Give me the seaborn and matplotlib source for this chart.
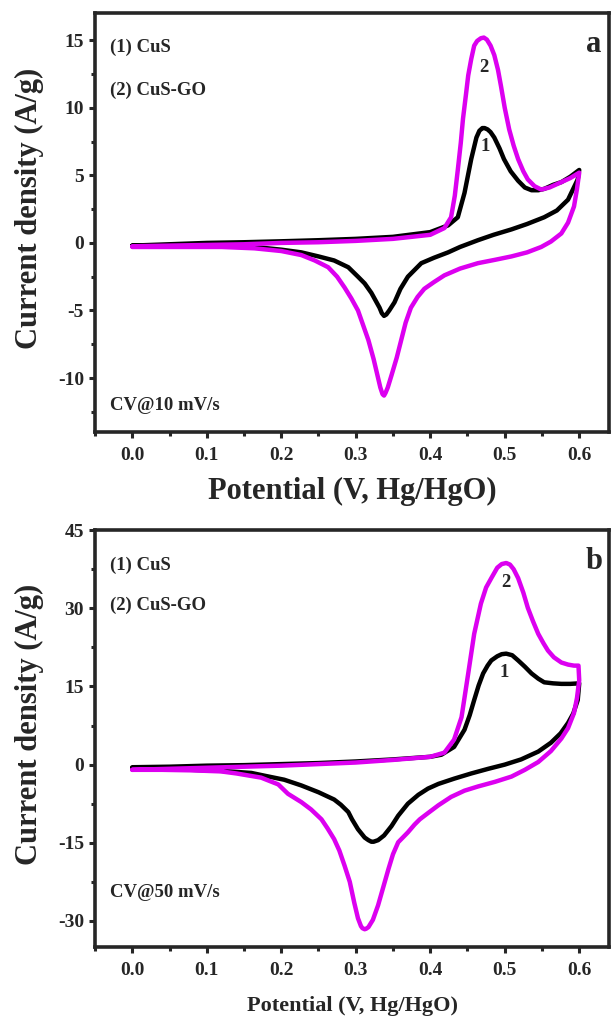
import numpy as np
import pandas as pd
import seaborn as sns
import matplotlib
matplotlib.use("Agg")
import matplotlib.pyplot as plt
from matplotlib.ticker import MultipleLocator

# ---- data (potential V vs Hg/HgO, current density A/g) ----
# panel a, 10 mV/s, CuS (1)
cus10_fwd_v = [0.0, 0.05, 0.10, 0.15, 0.20, 0.25, 0.30, 0.35, 0.40, 0.424, 0.437, 0.446,
               0.455, 0.462, 0.466, 0.470, 0.473, 0.477, 0.481, 0.486, 0.493, 0.499, 0.508,
               0.518, 0.527, 0.536, 0.545, 0.553, 0.565, 0.576, 0.588, 0.600]
cus10_fwd_i = [-0.2, -0.1, 0.0, 0.05, 0.12, 0.2, 0.3, 0.45, 0.8, 1.3, 1.9, 3.7,
               6.2, 7.8, 8.3, 8.5, 8.5, 8.4, 8.2, 7.8, 7.0, 6.2, 5.3,
               4.6, 4.1, 3.9, 3.9, 4.0, 4.3, 4.5, 4.9, 5.4]
cus10_rev_v = [0.600, 0.598, 0.585, 0.570, 0.553, 0.530, 0.509, 0.485, 0.464, 0.440, 0.424,
               0.405, 0.388, 0.370, 0.360, 0.352, 0.345, 0.341, 0.338, 0.335, 0.332, 0.326,
               0.321, 0.312, 0.303, 0.290, 0.271, 0.250, 0.227, 0.20, 0.164, 0.12, 0.08,
               0.04, 0.0]
cus10_rev_i = [5.4, 4.7, 3.2, 2.4, 1.9, 1.4, 1.0, 0.6, 0.2, -0.3, -0.7,
               -1.1, -1.5, -2.5, -3.4, -4.4, -5.0, -5.3, -5.4, -5.2, -4.8, -4.2,
               -3.7, -3.0, -2.5, -1.8, -1.3, -1.0, -0.7, -0.5, -0.3, -0.25, -0.2,
               -0.2, -0.2]

# panel a, 10 mV/s, CuS-GO (2)
go10_fwd_v = [0.0, 0.05, 0.10, 0.15, 0.20, 0.25, 0.30, 0.35, 0.40, 0.419, 0.428, 0.433,
              0.437, 0.441, 0.444, 0.448, 0.451, 0.455, 0.459, 0.463, 0.468, 0.472, 0.476,
              0.481, 0.486, 0.491, 0.495, 0.500, 0.506, 0.512, 0.518, 0.525, 0.531, 0.540,
              0.549, 0.560, 0.576, 0.588, 0.600]
go10_fwd_i = [-0.25, -0.2, -0.15, -0.1, 0.0, 0.05, 0.15, 0.3, 0.6, 1.1, 1.9, 3.5,
              5.4, 7.4, 9.2, 11.0, 12.4, 13.6, 14.6, 14.95, 15.15, 15.2, 15.05,
              14.6, 13.9, 12.8, 11.6, 10.0, 8.4, 7.2, 6.2, 5.3, 4.7, 4.2,
              3.95, 4.1, 4.5, 4.8, 5.2]
go10_rev_v = [0.600, 0.597, 0.593, 0.585, 0.576, 0.562, 0.549, 0.530, 0.509, 0.487, 0.464,
              0.440, 0.419, 0.405, 0.392, 0.383, 0.374, 0.367, 0.361, 0.355, 0.348, 0.343,
              0.340, 0.338, 0.336, 0.333, 0.330, 0.324, 0.317, 0.310, 0.303, 0.294, 0.285,
              0.275, 0.263, 0.245, 0.227, 0.20, 0.164, 0.12, 0.08, 0.04, 0.0]
go10_rev_i = [5.2, 4.0, 2.7, 1.5, 0.7, 0.1, -0.3, -0.7, -1.0, -1.25, -1.5,
              -1.9, -2.4, -2.9, -3.4, -4.0, -4.8, -5.9, -7.2, -8.5, -9.8, -10.7,
              -11.1, -11.3, -11.2, -10.7, -10.0, -8.6, -7.2, -6.1, -5.0, -4.1, -3.3,
              -2.5, -1.8, -1.3, -0.9, -0.6, -0.4, -0.3, -0.3, -0.3, -0.3]

# panel b, 50 mV/s, CuS (1)
cus50_fwd_v = [0.0, 0.05, 0.10, 0.15, 0.20, 0.25, 0.30, 0.35, 0.40, 0.415, 0.432, 0.446,
               0.453, 0.459, 0.465, 0.471, 0.477, 0.482, 0.490, 0.496, 0.502, 0.510, 0.518,
               0.527, 0.536, 0.545, 0.553, 0.565, 0.576, 0.588, 0.600]
cus50_fwd_i = [-0.5, -0.4, -0.2, -0.1, 0.1, 0.3, 0.6, 1.0, 1.5, 1.9, 3.4, 6.7,
               9.5, 12.4, 15.2, 17.5, 19.0, 20.0, 20.8, 21.2, 21.3, 21.0, 20.0,
               18.8, 17.5, 16.5, 15.8, 15.6, 15.5, 15.5, 15.6]
cus50_rev_v = [0.600, 0.598, 0.592, 0.585, 0.575, 0.562, 0.545, 0.522, 0.500, 0.478, 0.455,
               0.432, 0.411, 0.397, 0.384, 0.370, 0.357, 0.348, 0.338, 0.330, 0.324, 0.321,
               0.317, 0.312, 0.303, 0.295, 0.290, 0.280, 0.271, 0.250, 0.227, 0.204, 0.18,
               0.160, 0.12, 0.08, 0.04, 0.0]
cus50_rev_i = [15.6, 12.4, 9.8, 8.0, 6.0, 4.2, 2.5, 1.0, 0.0, -0.8, -1.7,
               -2.7, -3.7, -4.6, -5.8, -7.5, -9.8, -11.8, -13.6, -14.5, -14.8, -14.8,
               -14.5, -14.0, -12.4, -10.5, -9.1, -7.7, -6.7, -5.3, -4.0, -2.9, -2.2,
               -1.6, -1.2, -1.0, -0.8, -0.7]

# panel b, 50 mV/s, CuS-GO (2)
go50_fwd_v = [0.0, 0.05, 0.10, 0.15, 0.20, 0.25, 0.30, 0.35, 0.40, 0.419, 0.432, 0.442,
              0.451, 0.459, 0.468, 0.475, 0.482, 0.490, 0.496, 0.502, 0.507, 0.512, 0.518,
              0.525, 0.531, 0.538, 0.545, 0.552, 0.558, 0.566, 0.576, 0.585, 0.593, 0.599]
go50_fwd_i = [-1.0, -0.8, -0.6, -0.4, -0.2, 0.1, 0.4, 0.9, 1.5, 2.3, 4.8, 9.1,
              17.5, 25.1, 30.9, 34.0, 35.8, 37.8, 38.5, 38.7, 38.4, 37.5, 35.8,
              33.0, 30.1, 27.5, 25.1, 23.3, 21.9, 20.6, 19.6, 19.2, 19.0, 19.0]
go50_rev_v = [0.600, 0.597, 0.593, 0.585, 0.576, 0.562, 0.545, 0.527, 0.509, 0.487, 0.464,
              0.446, 0.428, 0.411, 0.397, 0.386, 0.379, 0.370, 0.357, 0.350, 0.344, 0.337,
              0.330, 0.323, 0.317, 0.314, 0.312, 0.309, 0.307, 0.303, 0.298, 0.292, 0.285,
              0.278, 0.271, 0.262, 0.254, 0.240, 0.227, 0.209, 0.196, 0.173, 0.14, 0.119,
              0.08, 0.04, 0.0]
go50_rev_i = [16.2, 12.8, 9.9, 7.0, 5.0, 2.6, 0.5, -1.0, -2.3, -3.3, -4.2,
              -5.0, -6.2, -7.8, -9.3, -10.5, -11.5, -13.0, -14.9, -17.2, -20.0, -23.5,
              -27.0, -29.8, -31.2, -31.5, -31.6, -31.4, -31.0, -29.5, -26.5, -22.5, -19.4,
              -16.5, -14.3, -12.2, -10.5, -8.6, -7.2, -5.6, -3.8, -2.5, -1.7, -1.3,
              -1.1, -1.0, -1.0]

samples = ["(1) CuS", "(2) CuS-GO"]
colors = {"(1) CuS": "black", "(2) CuS-GO": "#DC00F0"}


def loop_df(name, fv, fi, rv, ri):
    v = list(fv) + list(rv)
    i = list(fi) + list(ri)
    return pd.DataFrame({"V": v, "I": i, "sample": name})


df_a = pd.concat([loop_df(samples[0], cus10_fwd_v, cus10_fwd_i, cus10_rev_v, cus10_rev_i),
                  loop_df(samples[1], go10_fwd_v, go10_fwd_i, go10_rev_v, go10_rev_i)],
                 ignore_index=True)
df_b = pd.concat([loop_df(samples[0], cus50_fwd_v, cus50_fwd_i, cus50_rev_v, cus50_rev_i),
                  loop_df(samples[1], go50_fwd_v, go50_fwd_i, go50_rev_v, go50_rev_i)],
                 ignore_index=True)

sns.set_style("ticks")
plt.rcParams['font.family'] = ['Liberation Serif', 'DejaVu Serif']
plt.rcParams['font.weight'] = 'bold'
plt.rcParams['axes.labelweight'] = 'bold'

fig = plt.figure(figsize=(6.13, 10.19), dpi=100)
ax_a = fig.add_axes([0.155, 0.576, 0.8385, 0.411])
ax_b = fig.add_axes([0.155, 0.0707, 0.8385, 0.409])

panels = [
    (ax_a, df_a, (-14, 17), 5, 2.5, "a", "CV@10 mV/s", 22, -0.108,
     [(0.472, 13.0, "2"), (0.474, 7.1, "1")], (0.919, 0.816, 0.064)),
    (ax_b, df_b, (-35, 45), 15, 7.5, "b", "CV@50 mV/s", 16, -0.118,
     [(0.502, 34.9, "2"), (0.499, 17.7, "1")], (0.916, 0.82, 0.13)),
]

for ax, df, ylim, major, minor, tag, rate, xl_size, xl_y, nums, ypos in panels:
    sns.lineplot(data=df, x="V", y="I", hue="sample", palette=colors, sort=False,
                 estimator=None, linewidth=3.2, legend=False, ax=ax)
    for ln in ax.get_lines():
        ln.set_solid_joinstyle("round")
        ln.set_solid_capstyle("round")
    ax.set_xlim(-0.05, 0.64)
    ax.set_ylim(*ylim)
    ax.xaxis.set_major_locator(MultipleLocator(0.1))
    ax.xaxis.set_minor_locator(MultipleLocator(0.05))
    ax.yaxis.set_major_locator(MultipleLocator(major))
    ax.yaxis.set_minor_locator(MultipleLocator(minor))
    ax.xaxis.set_major_formatter(plt.FuncFormatter(lambda x, p: f"{x:.1f}"))
    ax.yaxis.set_major_formatter(plt.FuncFormatter(lambda y, p: f"{y:.0f}"))
    for sp in ax.spines.values():
        sp.set_linewidth(2.6)
        sp.set_visible(True)
    ax.tick_params(which="major", direction="out", length=4.5, width=2.2, labelsize=14,
                   top=False, right=False)
    ax.tick_params(axis="x", which="major", pad=6)
    ax.tick_params(which="minor", direction="out", length=3, width=2.2, top=False, right=False)
    for lab in ax.get_xticklabels() + ax.get_yticklabels():
        lab.set_fontweight("bold")
    ax.set_ylabel("Current density (A/g)", fontsize=22, fontweight="bold")
    ax.set_xlabel("Potential (V, Hg/HgO)", fontsize=xl_size, fontweight="bold")
    ax.yaxis.set_label_coords(-0.100, 0.535)
    ax.xaxis.set_label_coords(0.5, xl_y)

    ax.text(0.03, ypos[0], samples[0], transform=ax.transAxes, fontsize=13.5,
            fontweight="bold", va="center", ha="left")
    ax.text(0.03, ypos[1], samples[1], transform=ax.transAxes, fontsize=13.5,
            fontweight="bold", va="center", ha="left")
    ax.text(0.03, ypos[2], rate, transform=ax.transAxes, fontsize=13.5,
            fontweight="bold", va="center", ha="left")
    ax.text(0.97, 0.925, tag, transform=ax.transAxes, fontsize=22,
            fontweight="bold", va="center", ha="center")
    for xv, yv, s in nums:
        ax.text(xv, yv, s, fontsize=13.5, fontweight="bold", ha="center", va="center")

fig.savefig("out.png", dpi=100)
